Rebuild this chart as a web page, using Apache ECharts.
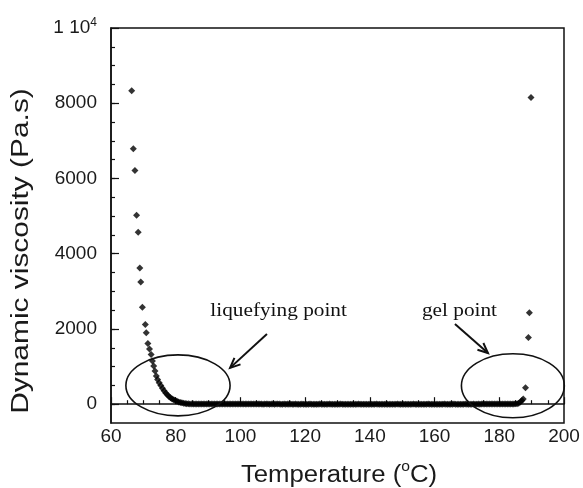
<!DOCTYPE html>
<html><head><meta charset="utf-8">
<script src="https://cdn.jsdelivr.net/npm/echarts@6/dist/echarts.min.js"></script>
<style>html,body{margin:0;padding:0;background:#fff}#c{width:583px;height:488px}</style>
</head><body><div id="c"></div>
<script>
// ---- data ----
const xTickLabels = [60, 80, 100, 120, 140, 160, 180, 200];
const yTickLabels = [0, 2000, 4000, 6000, 8000, 10000];
const yMinorTicks = [0, 500, 1000, 1500, 2000, 2500, 3000, 3500, 4000, 4500, 5000, 5500, 6000, 6500, 7000, 7500, 8000, 8500, 9000, 9500];

const temperature = [
  66.4, 66.9, 67.4, 67.9, 68.4, 68.9, 69.2, 69.7, 70.6, 70.9, 71.4, 71.9, 72.4, 72.8,
  73.2, 73.6, 74.0, 74.4, 74.9, 75.4, 75.9, 76.4, 76.9, 77.4, 77.9, 78.4, 78.9, 79.4, 79.9,
  80.4, 80.9, 81.4, 81.9, 82.4, 82.9, 83.4, 83.9, 84.4,
  85, 85.5, 86, 86.5, 87, 87.5, 88, 88.5, 89, 89.5, 90, 90.5, 91, 91.5, 92, 92.5, 93, 93.5, 94, 94.5,
  95, 95.5, 96, 96.5, 97, 97.5, 98, 98.5, 99, 99.5, 100, 100.5, 101, 101.5, 102, 102.5, 103, 103.5, 104, 104.5,
  105, 105.5, 106, 106.5, 107, 107.5, 108, 108.5, 109, 109.5, 110, 110.5, 111, 111.5, 112, 112.5, 113, 113.5, 114, 114.5,
  115, 115.5, 116, 116.5, 117, 117.5, 118, 118.5, 119, 119.5, 120, 120.5, 121, 121.5, 122, 122.5, 123, 123.5, 124, 124.5,
  125, 125.5, 126, 126.5, 127, 127.5, 128, 128.5, 129, 129.5, 130, 130.5, 131, 131.5, 132, 132.5, 133, 133.5, 134, 134.5,
  135, 135.5, 136, 136.5, 137, 137.5, 138, 138.5, 139, 139.5, 140, 140.5, 141, 141.5, 142, 142.5, 143, 143.5, 144, 144.5,
  145, 145.5, 146, 146.5, 147, 147.5, 148, 148.5, 149, 149.5, 150, 150.5, 151, 151.5, 152, 152.5, 153, 153.5, 154, 154.5,
  155, 155.5, 156, 156.5, 157, 157.5, 158, 158.5, 159, 159.5, 160, 160.5, 161, 161.5, 162, 162.5, 163, 163.5, 164, 164.5,
  165, 165.5, 166, 166.5, 167, 167.5, 168, 168.5, 169, 169.5, 170, 170.5, 171, 171.5, 172, 172.5, 173, 173.5, 174, 174.5,
  175, 175.5, 176, 176.5, 177, 177.5, 178, 178.5, 179, 179.5, 180, 180.5, 181, 181.5, 182, 182.5, 183, 183.5, 184, 184.5,
  185, 185.5, 186, 186.5, 187, 187.4, 188.1, 189.0, 189.3, 189.8
];
const viscosity = [
  8330, 6790, 6210, 5020, 4570, 3620, 3250, 2580, 2120, 1900, 1610, 1470, 1320, 1150,
  1016, 883, 750, 655, 573, 495, 424, 360, 300, 250, 205, 170, 140, 115, 95,
  75, 60, 48, 38, 28, 20, 14, 10, 8,
  7, 7, 6, 6, 6, 5, 5, 5, 5, 4, 4, 4, 4, 4, 3, 3, 3, 3, 3, 3,
  3, 3, 3, 2, 3, 2, 2, 3, 2, 2, 2, 2, 3, 2, 2, 2, 2, 2, 2, 2,
  2, 2, 2, 2, 1, 2, 2, 2, 1, 2, 2, 1, 2, 2, 2, 1, 1, 2, 1, 2,
  1, 2, 1, 1, 2, 1, 1, 1, 2, 1, 1, 1, 1, 2, 1, 1, 1, 1, 1, 2,
  1, 1, 1, 1, 1, 2, 1, 1, 1, 1, 1, 1, 2, 1, 1, 1, 1, 1, 1, 1,
  1, 1, 1, 2, 1, 1, 1, 1, 1, 1, 1, 1, 1, 1, 2, 1, 1, 1, 1, 1,
  1, 1, 1, 1, 1, 1, 1, 2, 1, 1, 1, 1, 1, 1, 1, 1, 1, 2, 1, 1,
  1, 1, 1, 1, 1, 1, 2, 1, 1, 1, 1, 1, 1, 1, 1, 1, 2, 1, 1, 1,
  1, 1, 2, 1, 1, 1, 1, 1, 1, 2, 1, 1, 1, 1, 2, 1, 1, 2, 1, 2,
  2, 2, 2, 2, 3, 2, 3, 3, 3, 3, 4, 4, 4, 5, 5, 5, 6, 6, 7, 8,
  9, 12, 25, 55, 95, 140, 440, 1770, 2430, 8150
];

// annotations (data coordinates)
const annotationLabels = ['liquefying point', 'gel point'];
const labelAnchors = [[111.8, 2475], [167.7, 2475]];
const arrowTails = [[108.2, 1865], [166.3, 2130]];
const arrowHeads = [[96.8, 965], [176.5, 1360]];
const ellipseCenters = [[80.7, 500], [184.2, 490]];
const ellipseRadii = [[16.1, 810], [15.9, 850]];

// ---- chart ----
const SANS = '"Liberation Sans", Arial, sans-serif';
const SERIF = '"Liberation Serif", "Times New Roman", serif';
const INK = '#111';
const chart = echarts.init(document.getElementById('c'), null, { renderer: 'canvas' });
const points = temperature.map((t, i) => [t, viscosity[i]]);

chart.setOption({
  animation: false,
  backgroundColor: '#fff',
  grid: { left: 111, right: 19, top: 28, bottom: 65, show: true, borderColor: INK, borderWidth: 1.5, backgroundColor: 'transparent' },
  xAxis: {
    type: 'value', min: xTickLabels[0], max: xTickLabels[xTickLabels.length - 1], interval: 20,
    axisLine: { show: true, lineStyle: { color: INK, width: 1.5 } },
    axisTick: { show: true, inside: true, length: 7, lineStyle: { color: INK, width: 1.2 } },
    minorTick: { show: true, splitNumber: 4, length: 4, lineStyle: { color: INK, width: 1.2 } },
    axisLabel: { color: '#1a1a1a', fontSize: 19, fontFamily: SANS, margin: 4 },
    splitLine: { show: false }, minorSplitLine: { show: false }
  },
  yAxis: [
    {
      type: 'value', min: -500, max: 10000, position: 'left',
      axisLine: { show: true, lineStyle: { color: INK, width: 1.5 } },
      axisTick: { show: true, inside: true, length: 8, customValues: yTickLabels, lineStyle: { color: INK, width: 1.2 } },
      axisLabel: {
        customValues: yTickLabels, showMaxLabel: true, showMinLabel: true,
        color: '#1a1a1a', fontSize: 19, fontFamily: SANS, margin: 14,
        formatter: v => v === 10000 ? '{b|1 10}{s|4}' : String(v),
        rich: {
          b: { fontSize: 19, fontFamily: SANS, color: '#1a1a1a', lineHeight: 22 },
          s: { fontSize: 12, fontFamily: SANS, color: '#1a1a1a', verticalAlign: 'top', lineHeight: 22, padding: [0, 0, 10, 0] }
        }
      },
      splitLine: { show: false }
    },
    {
      type: 'value', min: -500, max: 10000, position: 'left',
      axisLine: { show: false },
      axisTick: { show: true, inside: true, length: 4, customValues: yMinorTicks, lineStyle: { color: INK, width: 1.2 } },
      axisLabel: { show: false },
      splitLine: { show: false }
    }
  ],
  series: [{
    type: 'scatter', xAxisIndex: 0, yAxisIndex: 0, data: points,
    symbol: 'diamond', symbolSize: 7, itemStyle: { color: '#000' }
  }]
});

function px(p) { return chart.convertToPixel({ xAxisIndex: 0, yAxisIndex: 0 }, p); }

const graphics = [];
// axis titles
graphics.push({
  type: 'text', x: 339, y: 476, scaleX: 1.12,
  style: {
    text: 'Temperature ({s|o}C)', fontSize: 23, fontFamily: SANS, fill: '#1a1a1a',
    align: 'center', verticalAlign: 'middle',
    rich: { s: { fontSize: 14, fontFamily: SANS, fill: '#1a1a1a', verticalAlign: 'top', padding: [0, 0, 18, 0] } }
  }
});
graphics.push({
  type: 'text', x: 22, y: 251, rotation: Math.PI / 2, scaleX: 1.3,
  style: { text: 'Dynamic viscosity (Pa.s)', fontSize: 23, fontFamily: SANS, fill: '#1a1a1a', align: 'center', verticalAlign: 'middle' }
});
// ellipses
ellipseCenters.forEach((c, i) => {
  const p = px(c);
  const pr = px([c[0] + ellipseRadii[i][0], c[1] + ellipseRadii[i][1]]);
  graphics.push({
    type: 'ellipse', shape: { cx: p[0], cy: p[1], rx: Math.abs(pr[0] - p[0]), ry: Math.abs(pr[1] - p[1]) },
    style: { fill: 'none', stroke: INK, lineWidth: 1.6 }, z: 10
  });
});
// arrows
arrowTails.forEach((tl, i) => {
  const a = px(tl), b = px(arrowHeads[i]);
  const ang = Math.atan2(b[1] - a[1], b[0] - a[0]);
  const L = 11, w = 0.42;
  const h1 = [b[0] - L * Math.cos(ang - w), b[1] - L * Math.sin(ang - w)];
  const h2 = [b[0] - L * Math.cos(ang + w), b[1] - L * Math.sin(ang + w)];
  graphics.push({ type: 'line', shape: { x1: a[0], y1: a[1], x2: b[0], y2: b[1] }, style: { stroke: INK, lineWidth: 2 }, z: 10 });
  graphics.push({ type: 'polyline', shape: { points: [h1, b, h2] }, style: { stroke: INK, lineWidth: 2, fill: 'none' }, z: 10 });
});
// labels
annotationLabels.forEach((txt, i) => {
  const p = px(labelAnchors[i]);
  graphics.push({
    type: 'text', x: p[0], y: p[1], scaleX: 1.12, z: 10,
    style: { text: txt, fontSize: 19, fontFamily: SERIF, fill: '#111', align: 'center', verticalAlign: 'middle' }
  });
});
chart.setOption({ graphic: graphics });
</script>
</body></html>
